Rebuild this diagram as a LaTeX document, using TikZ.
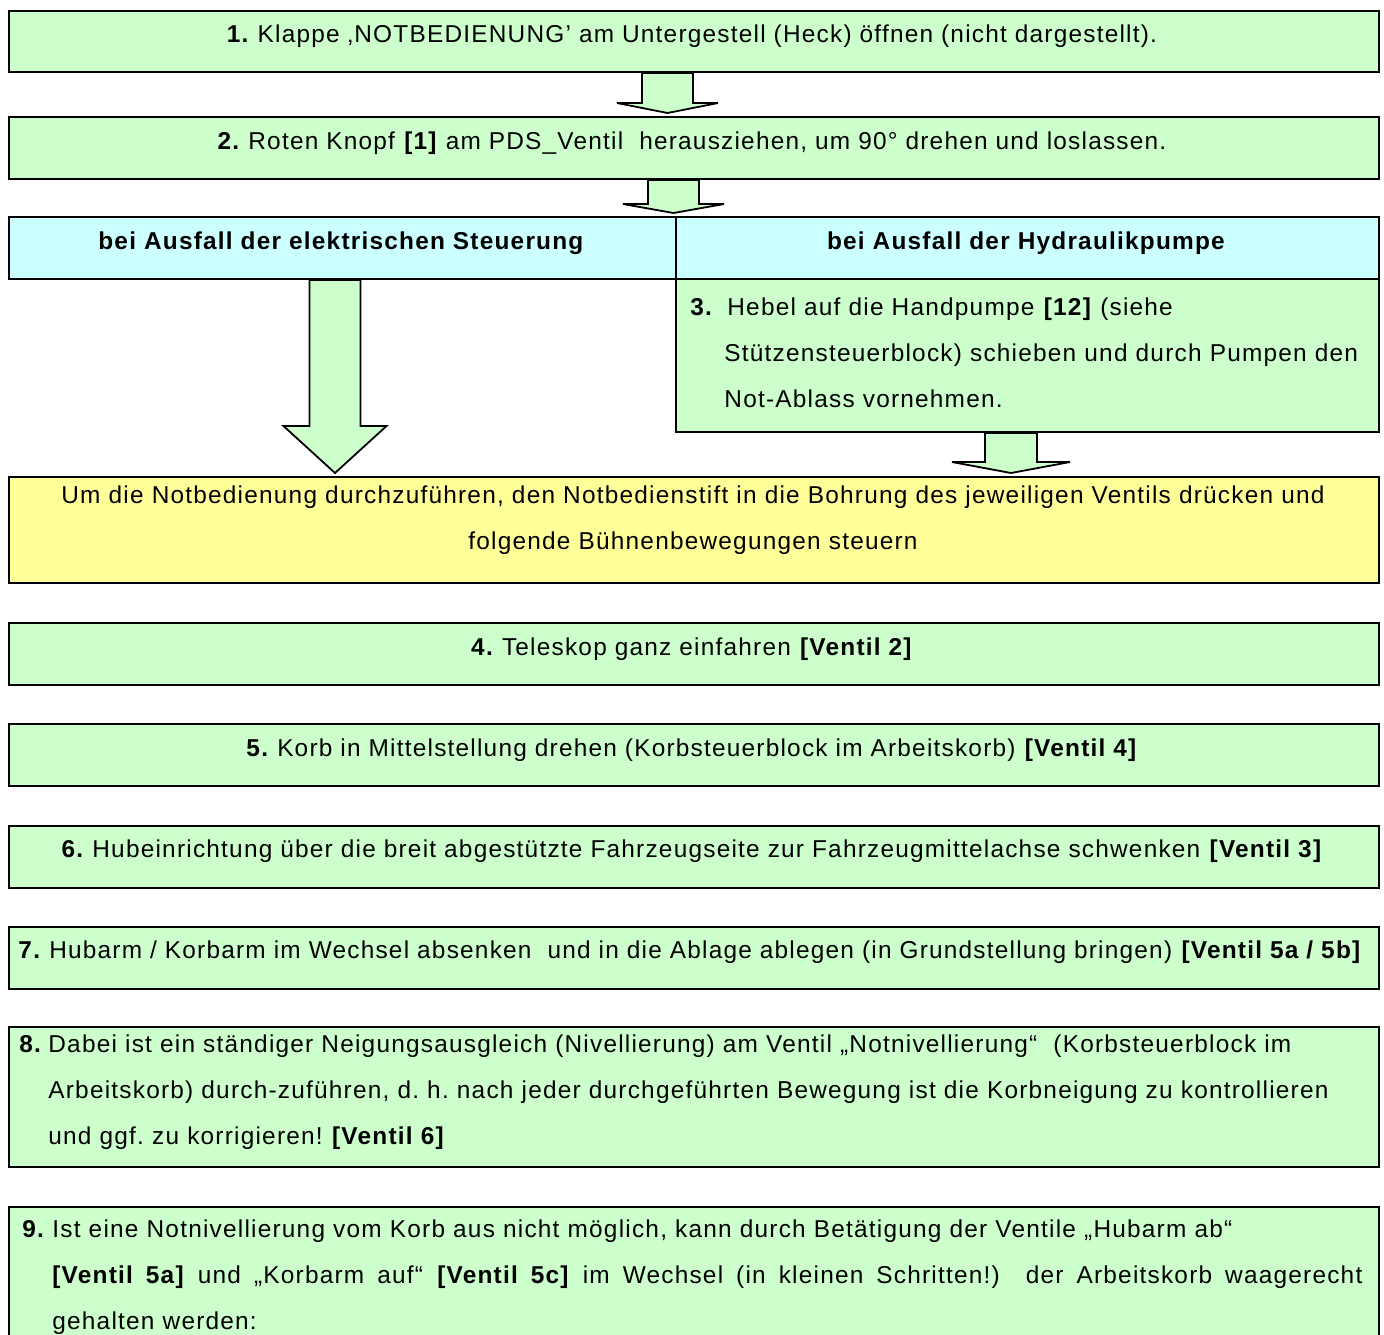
\documentclass[tikz,border=0pt]{standalone}
\usepackage{fontspec}
\setmainfont[LetterSpace=5]{Liberation Sans}
\usepackage{xcolor}
\usepackage{tikz}
\usetikzlibrary{calc}
\definecolor{stepgreen}{HTML}{CCFFCC}
\definecolor{headcyan}{HTML}{CCFFFF}
\definecolor{notegold}{HTML}{FFFF99}
\tikzset{
  % ---- boxes ----------------------------------------------------------
  nbox/.style={
    draw=black, line width=1pt, anchor=north west, inner sep=0pt,
    minimum width=685pt, minimum height=31pt},
  nstep/.style={nbox, fill=stepgreen},
  nhead/.style={nbox, fill=headcyan},
  nnote/.style={nbox, fill=notegold},
  % ---- texts ----------------------------------------------------------
  ntext/.style={inner sep=0pt,
    font=\fontsize{12.2pt}{23pt}\selectfont\frenchspacing},
  nline/.style={ntext, anchor=base},
  npara/.style={ntext, anchor=base west, text width=680pt, align=left},
  % ---- block arrows ---------------------------------------------------
  nflow/.style={draw=black, line width=0.9pt, fill=stepgreen},
}
% block arrow: from, to, centre x, shaft half width, wing half width, head length
\newcommand{\blockarrow}[6]{%
  \coordinate (arrc) at (#3,0);
  \coordinate (arrt) at (#1.south -| arrc);
  \coordinate (arrb) at ($(#2.north -| arrc)+(0,-3)$);
  \draw[nflow] ($(arrt)+(-#4,0)$) -- ($(arrb)+(-#4,-#6)$) -- ($(arrb)+(-#5,-#6)$)
    -- (arrb) -- ($(arrb)+(#5,-#6)$) -- ($(arrb)+(#4,-#6)$) -- ($(arrt)+(#4,0)$)
    -- cycle;}

\begin{document}
\begin{tikzpicture}[x=0.5pt, y=-0.5pt]
\path[use as bounding box] (0,0) rectangle (1384,1334);
\clip (0,0) rectangle (1384,1334);

% ---- steps 1 and 2 ---------------------------------------------------
\node[nstep, minimum height=30.5pt] (s1) at (8,10) {};
\node[nline] (t1) at (692,42)
  {\textbf{1.} Klappe ‚NOTBEDIENUNG’ am Untergestell (Heck) öffnen (nicht dargestellt).};
\node[nstep] (s2) at (8,116) {};
\node[nline] (t2) at (692,149)
  {\textbf{2.} Roten Knopf \textbf{[1]} am PDS\_Ventil\ \ herausziehen, um 90° drehen und loslassen.};

% ---- the two cases ---------------------------------------------------
\node[nhead, minimum width=333.5pt] (hl) at (8,216) {};
\node[nhead, minimum width=351.5pt] (hr) at (675,216) {};
\node[nline] (thl) at (341.5,249) {\textbf{bei Ausfall der elektrischen Steuerung}};
\node[nline] (thr) at (1026.5,249) {\textbf{bei Ausfall der Hydraulikpumpe}};

\node[nstep, minimum width=351.5pt, minimum height=76.5pt] (s3) at (675,278) {};
\node[npara, text width=345pt] (t3) at (690,315)
  {\makebox[18.5pt][l]{\textbf{3.}}Hebel auf die Handpumpe \textbf{[12]} (siehe\\
   \hspace*{17pt}Stützensteuerblock) schieben und durch Pumpen den\\
   \hspace*{17pt}Not-Ablass vornehmen.};

% ---- emergency operation ---------------------------------------------
\node[nnote, minimum height=53pt] (note) at (8,476) {};
\node[ntext, anchor=base, text width=680pt, align=center] (tnote) at (693,503)
  {Um die Notbedienung durchzuführen, den Notbedienstift in die Bohrung des jeweiligen Ventils drücken und\\
   folgende Bühnenbewegungen steuern};

% ---- steps 4 to 9 ----------------------------------------------------
\node[nstep] (s4) at (8,622) {};
\node[nline] (t4) at (692,655) {\textbf{4.} Teleskop ganz einfahren \textbf{[Ventil 2]}};
\node[nstep] (s5) at (8,723) {};
\node[nline] (t5) at (692,756)
  {\textbf{5.} Korb in Mittelstellung drehen (Korbsteuerblock im Arbeitskorb) \textbf{[Ventil 4]}};
\node[nstep] (s6) at (8,825) {};
\node[nline] (t6) at (692,857)
  {\textbf{6.} Hubeinrichtung über die breit abgestützte Fahrzeugseite zur Fahrzeugmittelachse schwenken \textbf{[Ventil 3]}};
\node[nstep] (s7) at (8,926) {};
\node[nline] (t7) at (690,958)
  {\textbf{7.} Hubarm / Korbarm im Wechsel absenken\ \ und in die Ablage ablegen (in Grundstellung bringen) \textbf{[Ventil 5a / 5b]}};

\node[nstep, minimum height=70pt] (s8) at (8,1026) {};
\node[npara] (t8) at (19,1052)
  {\makebox[14.5pt][l]{\textbf{8.}}Dabei ist ein ständiger Neigungsausgleich (Nivellierung) am Ventil „Notnivellierung“\ \ (Korbsteuerblock im\\
   \hspace*{14.5pt}Arbeitskorb) durch-zuführen, d. h. nach jeder durchgeführten Bewegung ist die Korbneigung zu kontrollieren\\
   \hspace*{14.5pt}und ggf. zu korrigieren! \textbf{[Ventil 6]}};

\node[nstep, minimum height=80pt] (s9) at (8,1206) {};
\node[npara] (t9) at (22,1237)
  {\makebox[15pt][l]{\textbf{9.}}Ist eine Notnivellierung vom Korb aus nicht möglich, kann durch Betätigung der Ventile „Hubarm ab“\\
   \hspace*{15pt}\hbox to 655pt{\spaceskip=0.28em plus 1fil\relax
     \textbf{[Ventil 5a]} und „Korbarm auf“ \textbf{[Ventil 5c]} im Wechsel (in kleinen Schritten!)\ \ der Arbeitskorb waagerecht}\\
   \hspace*{15pt}gehalten werden:};

% ---- block arrows ----------------------------------------------------
\blockarrow{s1}{s2}{667.5}{25.5}{50.5}{10}
\blockarrow{s2}{hl}{673.5}{25.5}{50.5}{9}
\blockarrow{hl}{note}{335}{25.5}{51.5}{47}
\blockarrow{s3}{note}{1011}{26}{59}{11}

\end{tikzpicture}
\end{document}
